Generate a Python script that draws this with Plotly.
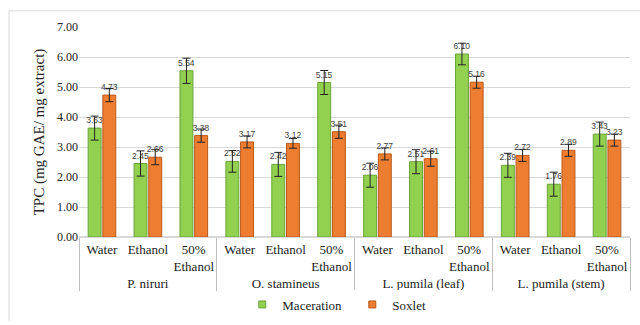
import plotly.graph_objects as go

plants = ["P. niruri", "O. stamineus", "L. pumila (leaf)", "L. pumila (stem)"]
solvents = ["Water", "Ethanol", "50%<br>Ethanol"]

maceration = [3.63, 2.45, 5.54, 2.52, 2.42, 5.15, 2.06, 2.51, 6.10, 2.39, 1.76, 3.43]
maceration_err = [0.40, 0.42, 0.42, 0.36, 0.40, 0.40, 0.40, 0.40, 0.36, 0.40, 0.40, 0.40]
soxlet = [4.73, 2.66, 3.38, 3.17, 3.12, 3.51, 2.77, 2.61, 5.16, 2.72, 2.89, 3.23]
soxlet_err = [0.22, 0.25, 0.22, 0.20, 0.16, 0.22, 0.20, 0.25, 0.20, 0.20, 0.20, 0.20]

series_names = ["Maceration", "Soxlet"]
fill_colors = ["#92D050", "#ED7D31"]
edge_colors = ["#6AA33A", "#B85A1C"]

x_groups = [p for p in plants for _ in solvents]
x_subs = [s for _ in plants for s in solvents]

serif = "Liberation Serif, Times New Roman, serif"
label_font = dict(family="Liberation Sans Narrow, Arial Narrow, sans-serif", size=8.5, color="#404040")

fig = go.Figure()
for name, vals, errs, fc, ec in zip(series_names, [maceration, soxlet],
                                    [maceration_err, soxlet_err],
                                    fill_colors, edge_colors):
    fig.add_trace(go.Bar(
        name=name, x=[x_groups, x_subs], y=vals,
        marker=dict(color=fc, line=dict(color=ec, width=1)),
        error_y=dict(type="data", array=errs, color="#222222", thickness=1, width=4),
        text=[f"{v:.2f}" for v in vals], textposition="outside",
        constraintext="none", textfont=label_font, cliponaxis=False,
        showlegend=False,
    ))

# small square legend keys
for name, fc, ec in zip(series_names, fill_colors, edge_colors):
    fig.add_trace(go.Scatter(
        name=name, x=[None], y=[None], mode="markers",
        marker=dict(symbol="square", size=7, color=fc, line=dict(color=ec, width=1)),
        showlegend=True,
    ))

fig.update_layout(
    width=640, height=325,
    margin=dict(l=79, r=10, t=27, b=88, autoexpand=False),
    paper_bgcolor="white", plot_bgcolor="white",
    barmode="group", bargap=0.36, bargroupgap=0.12,
    font=dict(family=serif, size=12, color="#222222"),
    legend=dict(orientation="h", x=0.496, xanchor="center", y=-0.25, yanchor="top",
                font=dict(family=serif, size=13, color="#222222"),
                itemwidth=30, tracegroupgap=0,
                entrywidth=65, entrywidthmode="pixels"),
)
fig.update_yaxes(
    range=[0, 7], dtick=1, tickformat=".2f", automargin=False,
    showgrid=True, gridcolor="#D9D9D9", gridwidth=1,
    zeroline=True, zerolinecolor="#D9D9D9",
    showline=False, ticks="",
    tickfont=dict(family=serif, size=12, color="#222222"),
    title=dict(text="TPC (mg GAE/ mg extract)",
               font=dict(family=serif, size=15, color="#222222"), standoff=8),
)
fig.update_xaxes(
    type="multicategory", tickangle=0, automargin=False,
    showdividers=True, dividercolor="#BFBFBF", dividerwidth=1,
    showline=True, linecolor="#D9D9D9",
    tickfont=dict(family=serif, size=13, color="#222222"),
)

# light frame along the top and left edges of the chart area
fig.add_shape(type="line", xref="paper", yref="paper",
              x0=-70/551, x1=1.02, y0=1.077, y1=1.077,
              line=dict(color="#D9D9D9", width=1))
fig.add_shape(type="line", xref="paper", yref="paper",
              x0=-70/551, x1=-70/551, y0=1.077, y1=-0.40,
              line=dict(color="#D9D9D9", width=1))

fig.write_html("out.html")
